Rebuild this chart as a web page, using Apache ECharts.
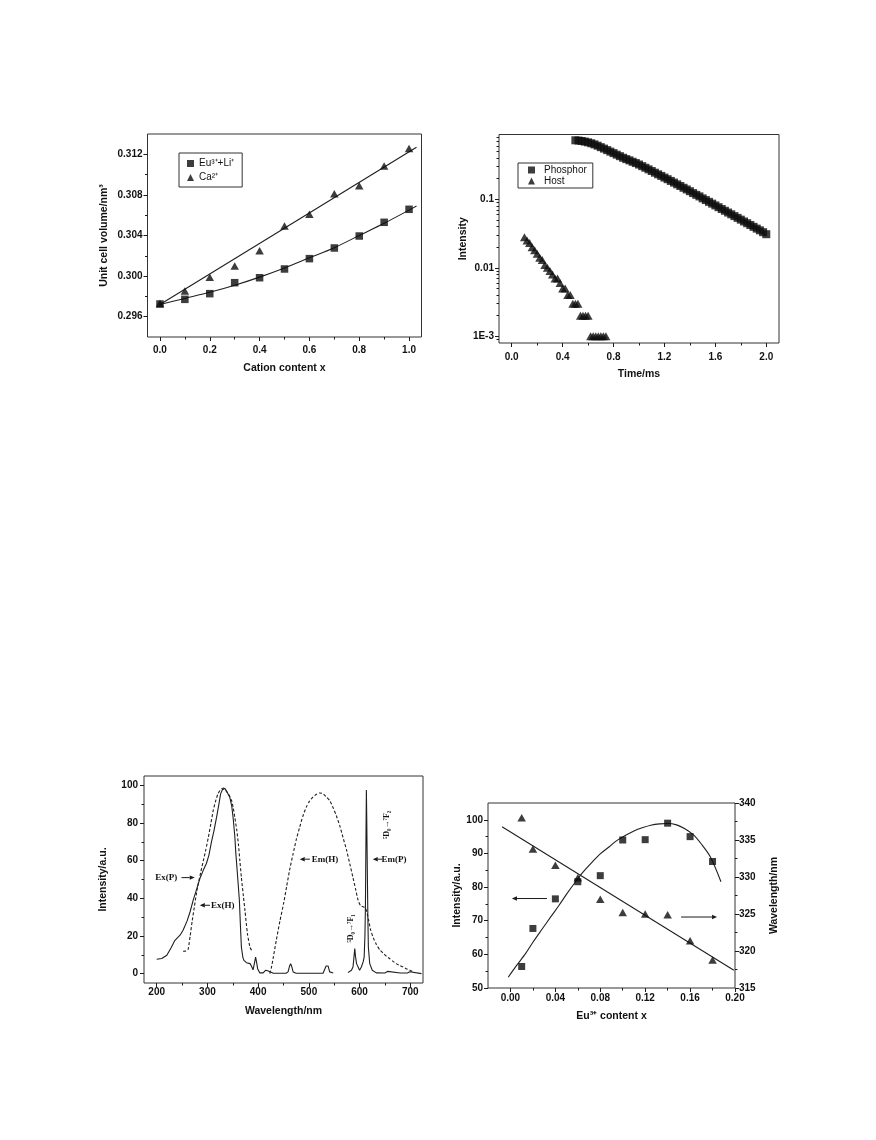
<!DOCTYPE html>
<html><head><meta charset="utf-8">
<script src="https://cdn.jsdelivr.net/npm/echarts@6/dist/echarts.min.js"></script>
<style>html,body{margin:0;padding:0;background:#fff}#c{width:876px;height:1140px}</style>
</head><body><div id="c"></div>
<script>
// ---------- Panel 1: unit cell volume ----------
const p1Content = [0,0.1,0.2,0.3,0.4,0.5,0.6,0.7,0.8,0.9,1.0];
const p1EuLi = [0.29725,0.29771,0.29827,0.29935,0.29984,0.3007,0.30172,0.30277,0.30395,0.3053,0.30658];
const p1Ca = [0.2973,0.29853,0.29988,0.3010,0.3025,0.30494,0.30609,0.30812,0.30891,0.31085,0.31256];
const p1EuLiFitX = [0,0.1,0.2,0.3,0.4,0.5,0.6,0.7,0.8,0.9,1.0,1.03];
const p1EuLiFitY = [0.2972,0.2978,0.2984,0.2991,0.2999,0.3008,0.3018,0.3028,0.3040,0.3052,0.3065,0.3069];
const p1CaFitX = [0,1.03];
const p1CaFitY = [0.2972,0.3127];
const p1XTicks = [0,0.2,0.4,0.6,0.8,1.0];
const p1XMinor = [0.1,0.3,0.5,0.7,0.9];
const p1YTicks = [0.296,0.300,0.304,0.308,0.312];
const p1YMinor = [0.298,0.302,0.306,0.310];

// ---------- Panel 2: decay curves ----------
const p2PhosT = [0.500,0.525,0.550,0.575,0.600,0.625,0.650,0.675,0.700,0.725,0.750,0.775,0.800,0.825,0.850,0.875,0.900,0.925,0.950,0.975,1.000,1.025,1.050,1.075,1.100,1.125,1.150,1.175,1.200,1.225,1.250,1.275,1.300,1.325,1.350,1.375,1.400,1.425,1.450,1.475,1.500,1.525,1.550,1.575,1.600,1.625,1.650,1.675,1.700,1.725,1.750,1.775,1.800,1.825,1.850,1.875,1.900,1.925,1.950,1.975,2.000];
const p2PhosI = [0.724,0.718,0.708,0.693,0.676,0.655,0.631,0.604,0.575,0.548,0.521,0.495,0.471,0.447,0.425,0.403,0.385,0.369,0.352,0.337,0.321,0.304,0.288,0.273,0.258,0.244,0.231,0.219,0.207,0.196,0.185,0.175,0.165,0.156,0.147,0.139,0.131,0.123,0.116,0.110,0.103,0.0973,0.0916,0.0863,0.0813,0.0766,0.0721,0.0679,0.0640,0.0603,0.0568,0.0535,0.0504,0.0474,0.0447,0.0421,0.0396,0.0373,0.0352,0.0331,0.0309];
const p2HostT = [0.10,0.12,0.14,0.16,0.18,0.20,0.22,0.24,0.26,0.28,0.30,0.32,0.34,0.36,0.38,0.40,0.42,0.44,0.46,0.48,0.50,0.52,0.54,0.56,0.58,0.60,0.62,0.64,0.66,0.68,0.70,0.72,0.74];
const p2HostI = [0.028,0.025,0.023,0.020,0.018,0.016,0.014,0.013,0.011,0.010,0.009,0.008,0.007,0.007,0.006,0.005,0.005,0.004,0.004,0.003,0.003,0.003,0.002,0.002,0.002,0.002,0.001,0.001,0.001,0.001,0.001,0.001,0.001];
const p2XTicks = [0,0.4,0.8,1.2,1.6,2.0];
const p2XMinor = [0.2,0.6,1.0,1.4,1.8];
const p2YTicks = [0.001,0.01,0.1];
const p2YTickText = ['1E-3','0.01','0.1'];
const p2YMinor = [0.0009,0.002,0.003,0.004,0.005,0.006,0.007,0.008,0.009,0.02,0.03,0.04,0.05,0.06,0.07,0.08,0.09,0.2,0.3,0.4,0.5,0.6,0.7,0.8];

// ---------- Panel 3: spectra ----------
const p3ExP = [[200,7.6],[210,8],[220,9.7],[229,14],[236,17.7],[246,20.4],[252,23],[260,28],[266,33],[272,39],[279,45],[285,50.4],[292,55],[298,58.5],[303,63],[308,70],[313,76],[318,83],[322,89],[326,95.5],[331,98.6],[335,98.2],[338,97.3],[344,93.8],[348,89],[351,82],[354,73],[356,64],[360,50],[363,39],[365,26],[367,14],[370,8.5],[372,7],[377,5.8],[384,5.3],[387,3.9],[390,2],[393,6],[395,8.8],[397,6],[399,2.6],[403,0.4],[410,0.4],[415,1.8],[420,1.4],[423,0.4],[430,0.2],[455,0.2],[459,0.9],[462,4],[464,5.3],[466,4],[469,0.9],[475,0.2],[528,0.2],[531,0.7],[534,4],[536,5],[538,4],[541,0.9],[548,0.3]];
const p3EmP = [[577,0.5],[584,1.8],[587,3.5],[589,9],[590.5,13.3],[592,9],[594,5.3],[597,4.4],[600,1.8],[603.5,3.5],[607,6.2],[609,8.8],[610.5,20],[611.5,35],[612.5,70],[613.4,97.5],[614.2,80],[615.4,51],[616.3,30],[617.3,14],[620,5.3],[625,1.8],[633,0.4],[650,0.3],[653,0.5],[655,1.2],[657,0.5],[680,0.3],[695,0.4],[699,1],[702,0.3],[722,0]];
const p3ExH = [[252,11.9],[258,12],[262,13],[266,20],[270,28],[274,35],[278,42],[282,47.8],[287,54],[292,60],[297,66],[302,72.6],[307,80],[311.5,86.7],[316,91.5],[321,95.6],[328,98.2],[334.5,97.7],[341,95.6],[347.6,92],[351,88],[354,83],[358,76],[361,69],[364,60],[367,51],[371,41],[374,33.6],[379,21],[384,14],[387,12.4]];
const p3EmH = [[423,0],[426,3],[430,8.8],[436,18],[443,28],[450,37],[456,46],[462,55],[469,63.7],[475,71],[482,77.9],[488,83.5],[495,88.5],[501,91.5],[508,93.8],[515,95.3],[521.5,96],[528,95.6],[534,94],[541,92],[548,88],[554,84],[561,78.5],[567,72.6],[574,66],[580.6,58.4],[587,51],[592,45],[597,39],[602,36],[607,35.5],[611,35],[614,33],[618,28],[622,23],[627,19],[633,15.5],[640,12.5],[646,11],[653,9.2],[659,8],[666,6.5],[672,5.3],[679,4.3],[685.6,3.5],[692,2.6],[699,1.8],[704,1],[708.5,0.4]];
const p3XTicks = [200,300,400,500,600,700];
const p3XMinor = [250,350,450,550,650];
const p3YTicks = [0,20,40,60,80,100];
const p3YMinor = [10,30,50,70,90];

// ---------- Panel 4: Eu content ----------
const p4X = [0.01,0.02,0.04,0.06,0.08,0.10,0.12,0.14,0.16,0.18];
const p4Intensity = [56.4,67.7,76.5,81.6,83.4,94.0,94.1,99.0,95.0,87.6];
const p4Wavelength = [338.0,333.8,331.6,329.9,327.0,325.2,325.0,324.9,321.4,318.8];
const p4IntFitX = [-0.002,0.005,0.0134,0.02,0.0284,0.036,0.0433,0.05,0.058,0.065,0.073,0.08,0.088,0.095,0.103,0.11,0.118,0.125,0.133,0.14,0.148,0.155,0.163,0.17,0.178,0.1875];
const p4IntFitY = [53.2,56.5,60.2,63.6,67.6,71.2,74.6,77.9,81.6,84.6,87.5,89.9,92,93.9,95.5,96.7,97.7,98.4,98.8,98.9,98.5,97.4,95.5,92.8,89,81.6];
const p4WaveFitX = [-0.0075,0.199];
const p4WaveFitY = [336.8,317.4];
const p4XTicks = [0,0.04,0.08,0.12,0.16,0.20];
const p4XMinor = [0.02,0.06,0.10,0.14,0.18];
const p4YLTicks = [50,60,70,80,90,100];
const p4YLMinor = [55,65,75,85,95];
const p4YRTicks = [315,320,325,330,335,340];
const p4YRMinor = [317.5,322.5,327.5,332.5,337.5];

// ---------- build ----------
const FONT = 'Arial, "Liberation Sans", Helvetica, sans-serif';
const SERIF = '"Liberation Serif", "DejaVu Serif", serif';
const INK = '#1a1a1a';
const xAxes = [], yAxes = [];
function add(list, cfg) { list.push(cfg); return list.length - 1; }
function mainAxis(c) {
  return {
    type: c.type || 'value', gridIndex: c.grid, min: c.min, max: c.max, position: c.position,
    logBase: 10,
    axisLine: {show: false, onZero: false}, splitLine: {show: false}, minorTick: {show: false},
    axisTick: {show: true, inside: false, length: 4, customValues: c.ticks, lineStyle: {color: INK, width: 1}},
    axisLabel: {show: true, customValues: c.ticks, formatter: c.fmt, margin: c.margin, color: '#111',
      fontFamily: FONT, fontWeight: 'bold', fontSize: 10},
    name: c.name, nameLocation: 'middle', nameGap: c.nameGap, nameRotate: c.nameRotate,
    nameTextStyle: {fontFamily: FONT, fontWeight: 'bold', fontSize: 10.5, color: '#111'}
  };
}
function minorAxis(c) {
  return {
    type: c.type || 'value', gridIndex: c.grid, min: c.min, max: c.max, position: c.position,
    logBase: 10,
    axisLine: {show: false, onZero: false}, splitLine: {show: false},
    axisTick: {show: true, inside: false, length: 2.5, customValues: c.minor, lineStyle: {color: INK, width: 1}},
    axisLabel: {show: false}
  };
}
function pair(c) { add(c.list, minorAxis(c)); return add(c.list, mainAxis(c)); }
const f = d => v => Number(v).toFixed(d);

// panel 1
const a1x = pair({list: xAxes, grid: 0, min: -0.05, max: 1.05, position: 'bottom', ticks: p1XTicks, minor: p1XMinor,
  fmt: f(1), margin: 8, name: 'Cation content x', nameGap: 26});
const a1y = pair({list: yAxes, grid: 0, min: 0.294, max: 0.314, position: 'left', ticks: p1YTicks, minor: p1YMinor,
  fmt: f(3), margin: 5, name: 'Unit cell volume/nm³', nameGap: 38, nameRotate: 90});
// panel 2
const a2x = pair({list: xAxes, grid: 1, min: -0.1, max: 2.1, position: 'bottom', ticks: p2XTicks, minor: p2XMinor,
  fmt: f(1), margin: 9, name: 'Time/ms', nameGap: 26});
const a2y = pair({list: yAxes, grid: 1, type: 'log', min: 0.0008, max: 0.88, position: 'left', ticks: p2YTicks, minor: p2YMinor,
  fmt: v => { const i = p2YTicks.findIndex(t => Math.abs(Math.log10(t) - Math.log10(v)) < 1e-6); return i >= 0 ? p2YTickText[i] : ''; },
  margin: 5, name: 'Intensity', nameGap: 12, nameRotate: 90});
// panel 3
const a3x = pair({list: xAxes, grid: 2, min: 175, max: 725, position: 'bottom', ticks: p3XTicks, minor: p3XMinor,
  fmt: f(0), margin: 4, name: 'Wavelength/nm', nameGap: 23});
const a3y = pair({list: yAxes, grid: 2, min: -5, max: 105, position: 'left', ticks: p3YTicks, minor: p3YMinor,
  fmt: f(0), margin: 6, name: 'Intensity/a.u.', nameGap: 35, nameRotate: 90});
// panel 4
const a4x = pair({list: xAxes, grid: 3, min: -0.02, max: 0.20, position: 'bottom', ticks: p4XTicks, minor: p4XMinor,
  fmt: f(2), margin: 5, name: 'Eu³⁺ content x', nameGap: 23});
const a4yl = pair({list: yAxes, grid: 3, min: 50, max: 105, position: 'left', ticks: p4YLTicks, minor: p4YLMinor,
  fmt: f(0), margin: 5, name: 'Intensity/a.u.', nameGap: 20, nameRotate: 90});
const a4yr = pair({list: yAxes, grid: 3, min: 315, max: 340, position: 'right', ticks: p4YRTicks, minor: p4YRMinor,
  fmt: f(0), margin: 4, name: 'Wavelength/nm', nameGap: 34, nameRotate: 90});

const zip = (xs, ys) => xs.map((x, i) => [x, ys[i]]);
function scatter(name, xi, yi, sym, size, data) {
  return {type: 'scatter', name, xAxisIndex: xi, yAxisIndex: yi, symbol: sym, symbolSize: size,
    itemStyle: {color: '#0d0d0d'}, data, z: 3};
}
function line(name, xi, yi, data, dashed, smooth) {
  return {type: 'line', name, xAxisIndex: xi, yAxisIndex: yi, symbol: 'none', showSymbol: false,
    smooth: smooth || false, lineStyle: {color: '#1f1f1f', width: 1.1, type: dashed ? [3, 2] : 'solid'}, data, z: 2};
}
const series = [
  line('EuLi fit', a1x, a1y, zip(p1EuLiFitX, p1EuLiFitY), false, 0.3),
  line('Ca fit', a1x, a1y, zip(p1CaFitX, p1CaFitY), false),
  scatter('Eu³⁺+Li⁺', a1x, a1y, 'rect', 7.5, zip(p1Content, p1EuLi)),
  scatter('Ca²⁺', a1x, a1y, 'triangle', [8.5, 7.5], zip(p1Content, p1Ca)),
  scatter('Phosphor', a2x, a2y, 'rect', 8, zip(p2PhosT, p2PhosI)),
  scatter('Host', a2x, a2y, 'triangle', [9, 8], zip(p2HostT, p2HostI)),
  line('Ex(P)', a3x, a3y, p3ExP, false),
  line('Em(P)', a3x, a3y, p3EmP, false),
  line('Ex(H)', a3x, a3y, p3ExH, true, 0.2),
  line('Em(H)', a3x, a3y, p3EmH, true, 0.2),
  line('Intensity fit', a4x, a4yl, zip(p4IntFitX, p4IntFitY), false, 0.3),
  line('Wavelength fit', a4x, a4yr, zip(p4WaveFitX, p4WaveFitY), false),
  scatter('Intensity', a4x, a4yl, 'rect', 7, zip(p4X, p4Intensity)),
  scatter('Wavelength', a4x, a4yr, 'triangle', [8.5, 7.5], zip(p4X, p4Wavelength))
];

const gridBase = {show: true, borderColor: '#333', borderWidth: 1, backgroundColor: 'transparent', containLabel: false, outerBoundsMode: 'none'};
const legendBase = {orient: 'vertical', selectedMode: false, borderColor: '#333', borderWidth: 1, borderRadius: 0,
  itemWidth: 7, itemHeight: 7, textStyle: {fontFamily: FONT, fontSize: 10, color: '#111', lineHeight: 11}};
const option = {
  backgroundColor: '#fff', animation: false,
  grid: [
    Object.assign({left: 147.5, top: 134, width: 274, height: 203}, gridBase),
    Object.assign({left: 499, top: 134.5, width: 280, height: 208.5}, gridBase),
    Object.assign({left: 144, top: 776, width: 279, height: 207}, gridBase),
    Object.assign({left: 488, top: 803, width: 247, height: 185}, gridBase)
  ],
  xAxis: xAxes, yAxis: yAxes,
  legend: [
    Object.assign({}, legendBase, {left: 179, top: 153, padding: [5, 8, 4, 8], itemGap: 3,
      data: [{name: 'Eu³⁺+Li⁺', icon: 'rect'}, {name: 'Ca²⁺', icon: 'triangle'}]}),
    Object.assign({}, legendBase, {left: 518, top: 163, padding: [2, 6, 2, 10], itemGap: 1,
      textStyle: {fontFamily: FONT, fontSize: 10, color: '#111', lineHeight: 10, padding: [0, 0, 0, 4]},
      data: [{name: 'Phosphor', icon: 'rect'}, {name: 'Host', icon: 'triangle'}]})
  ],
  series
};
const chart = echarts.init(document.getElementById('c'), null, {width: 876, height: 1140});
chart.setOption(option);

// annotations, placed in data coordinates
function toPx(xi, yi, pt) { return chart.convertToPixel({xAxisIndex: xi, yAxisIndex: yi}, pt); }
const g = [];
function arrow(xi, yi, a, b) {
  const p = toPx(xi, yi, a), q = toPx(xi, yi, b);
  const dx = q[0] - p[0], dy = q[1] - p[1], L = Math.hypot(dx, dy), ux = dx / L, uy = dy / L;
  const hx = q[0] - ux * 5, hy = q[1] - uy * 5;
  g.push({type: 'line', shape: {x1: p[0], y1: p[1], x2: hx, y2: hy}, style: {stroke: INK, lineWidth: 1}});
  g.push({type: 'polygon', shape: {points: [[q[0], q[1]], [hx - uy * 2.2, hy + ux * 2.2], [hx + uy * 2.2, hy - ux * 2.2]]}, style: {fill: INK}});
}
function note(xi, yi, pt, text, size, rot) {
  const p = toPx(xi, yi, pt);
  g.push({type: 'text', x: p[0], y: p[1], rotation: rot || 0,
    style: {text, fill: '#111', fontSize: size, fontFamily: SERIF, fontWeight: 'bold', textAlign: 'center', textVerticalAlign: 'middle'}});
}
note(a3x, a3y, [219, 51], 'Ex(P)', 9);
arrow(a3x, a3y, [249, 51], [275, 51]);
note(a3x, a3y, [330, 36.3], 'Ex(H)', 9);
arrow(a3x, a3y, [305, 36.3], [285, 36.3]);
note(a3x, a3y, [532, 60.8], 'Em(H)', 9);
arrow(a3x, a3y, [502, 60.8], [482, 60.8]);
note(a3x, a3y, [668, 60.8], 'Em(P)', 9);
arrow(a3x, a3y, [645, 60.8], [626, 60.8]);
note(a3x, a3y, [654, 79], '⁵D₀→⁷F₂', 8, Math.PI / 2);
note(a3x, a3y, [582, 24], '⁵D₀→⁷F₁', 8, Math.PI / 2);
arrow(a4x, a4yl, [0.0325, 76.6], [0.0013, 76.6]);
arrow(a4x, a4yl, [0.152, 71.1], [0.184, 71.1]);
chart.setOption({graphic: {elements: g}});
</script></body></html>
